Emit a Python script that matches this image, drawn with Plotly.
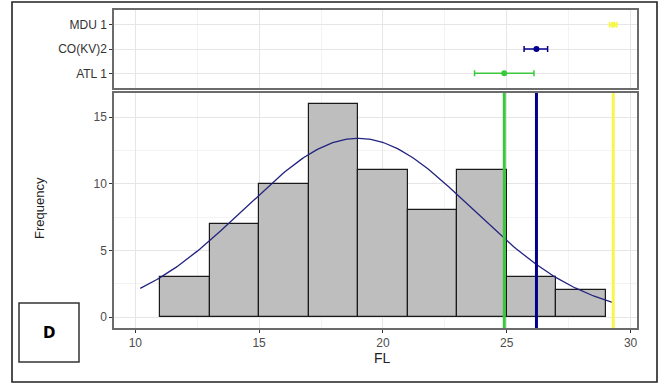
import numpy as np
import plotly.graph_objects as go

# Histogram of FL
bin_edges = [11, 13, 15, 17, 19, 21, 23, 25, 27, 29]
bin_counts = [3, 7, 10, 16, 11, 8, 11, 3, 2]

# Fitted normal curve parameters
norm_mean = 19.0
norm_sd = 4.6
norm_peak = 13.4
curve_from, curve_to = 10.2, 29.3

# Group means with intervals
groups = ["ATL 1", "CO(KV)2", "MDU 1"]
group_mean = [24.9, 26.2, 29.3]
group_low = [23.7, 25.7, 29.15]
group_high = [26.1, 26.65, 29.45]
group_color = ["#3cc83c", "#00008b", "#f7f74a"]

W, H = 663, 385


def px_x(p):
    return p / W


def px_y(p):
    return 1 - p / H


x_dom = [px_x(114), px_x(637)]
top_dom = [px_y(88), px_y(10)]
bot_dom = [px_y(328), px_y(93)]
x_range = [9.14, 30.26]

grid_major = "#e6e6e6"
grid_minor = "#f3f3f3"
border = "#6b6b6b"
tick_font = dict(family="Liberation Sans, Arial", size=12, color="#4d4d4d")

fig = go.Figure()

# Top panel: mean with interval per group
for g, m, lo, hi, c in zip(groups, group_mean, group_low, group_high, group_color):
    fig.add_trace(go.Scatter(
        x=[m], y=[g], mode="markers",
        marker=dict(color=c, size=6),
        error_x=dict(type="data", symmetric=False,
                     array=[hi - m], arrayminus=[m - lo],
                     color=c, thickness=1.5, width=3),
        xaxis="x", yaxis="y", showlegend=False, hoverinfo="skip",
    ))

# Bottom panel: histogram bars
centers = [(a + b) / 2 for a, b in zip(bin_edges[:-1], bin_edges[1:])]
widths = [b - a for a, b in zip(bin_edges[:-1], bin_edges[1:])]
fig.add_trace(go.Bar(
    x=centers, y=bin_counts, width=widths,
    marker=dict(color="#bebebe", line=dict(color="#1a1a1a", width=1.2)),
    xaxis="x2", yaxis="y2", showlegend=False, hoverinfo="skip",
))

# Normal curve over the histogram
cx = np.linspace(curve_from, curve_to, 200)
cy = norm_peak * np.exp(-0.5 * ((cx - norm_mean) / norm_sd) ** 2)
fig.add_trace(go.Scatter(
    x=cx, y=cy, mode="lines",
    line=dict(color="#22227f", width=1.3),
    xaxis="x2", yaxis="y2", showlegend=False, hoverinfo="skip",
))

# Vertical reference lines at the group means
for m, c in zip(group_mean, group_color):
    fig.add_shape(type="line", xref="x2", yref="y2 domain",
                  x0=m, x1=m, y0=0, y1=1,
                  line=dict(color=c, width=3), layer="above")

axis_common = dict(
    showgrid=True, gridcolor=grid_major, gridwidth=1,
    zeroline=False, showline=True, mirror=True,
    linecolor=border, linewidth=1.5,
)

fig.update_layout(
    width=W, height=H,
    margin=dict(l=0, r=0, t=0, b=0),
    paper_bgcolor="white", plot_bgcolor="white",
    bargap=0,
    xaxis=dict(domain=x_dom, anchor="y", range=x_range,
               tick0=10, dtick=5, showticklabels=False, ticks="",
               minor=dict(dtick=2.5, tick0=10, showgrid=True, gridcolor=grid_minor),
               **axis_common),
    yaxis=dict(domain=top_dom, anchor="x", type="category",
               categoryorder="array", categoryarray=groups,
               range=[-0.6, 2.6], ticks="outside", ticklen=3,
               tickcolor="#333333", tickfont=dict(family="Liberation Sans, Arial",
                                                 size=12, color="#333333"),
               **axis_common),
    xaxis2=dict(domain=x_dom, anchor="y2", range=x_range,
                tick0=10, dtick=5, ticks="outside", ticklen=3,
                tickcolor="#333333", tickfont=tick_font,
                minor=dict(dtick=2.5, tick0=10, showgrid=True, gridcolor=grid_minor),
                **axis_common),
    yaxis2=dict(domain=bot_dom, anchor="x2", range=[-0.82, 16.8],
                tick0=0, dtick=5, ticks="outside", ticklen=3,
                tickcolor="#333333", tickfont=tick_font,
                minor=dict(dtick=2.5, tick0=0, showgrid=True, gridcolor=grid_minor),
                **axis_common),
)

centered = dict(xref="paper", yref="paper", xanchor="center", yanchor="middle",
                showarrow=False)

# Axis titles
fig.add_annotation(text="FL", x=px_x(383), y=px_y(358),
                   font=dict(family="Liberation Sans, Arial", size=14, color="#222222"),
                   **centered)
fig.add_annotation(text="Frequency", x=px_x(40), y=px_y(208), textangle=-90,
                   font=dict(family="Liberation Sans, Arial", size=13, color="#222222"),
                   **centered)

# Panel label box
fig.add_shape(type="rect", xref="paper", yref="paper",
              x0=px_x(19), x1=px_x(79), y0=px_y(362), y1=px_y(303),
              line=dict(color="#333333", width=1.5), fillcolor="white")
fig.add_annotation(text="<b>D</b>", x=px_x(49), y=px_y(333),
                   font=dict(family="DejaVu Sans", size=15, color="black"),
                   **centered)

# Outer frame
fig.add_shape(type="rect", xref="paper", yref="paper",
              x0=px_x(12), x1=px_x(657), y0=px_y(382), y1=px_y(2),
              line=dict(color="#222222", width=1.6))

fig.write_html("out.html")
